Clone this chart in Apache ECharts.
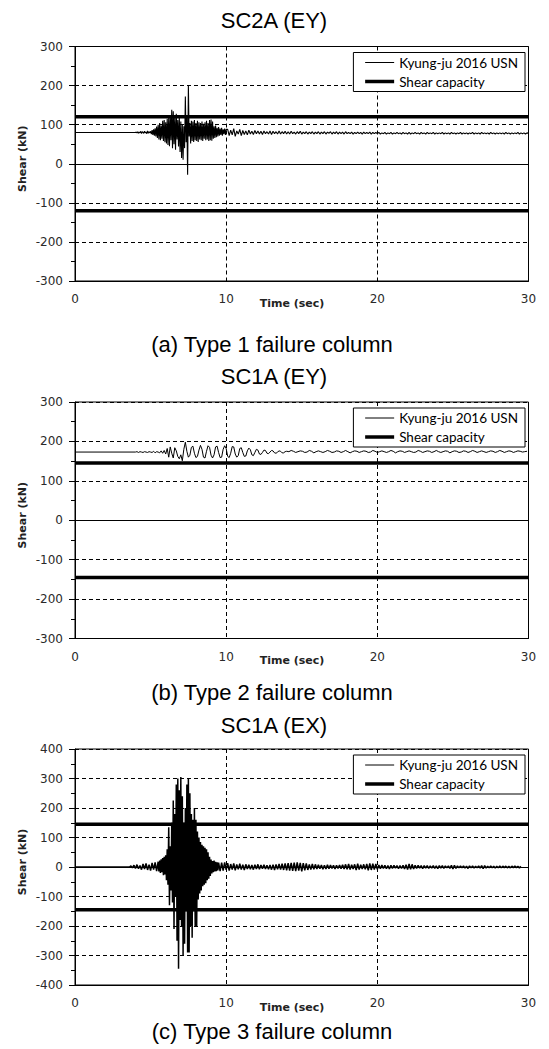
<!DOCTYPE html>
<html>
<head>
<meta charset="utf-8">
<title>Shear time histories</title>
<script src="https://cdn.jsdelivr.net/npm/echarts@6/dist/echarts.min.js"></script>
<style>
html,body{margin:0;padding:0;background:#fff;}
#main{width:549px;height:1049px;}
</style>
</head>
<body>
<div id="main"></div>
<script>
// ---------------- data ----------------
const chartTitles = ['SC2A (EY)', 'SC1A (EY)', 'SC1A (EX)'];
const chartCaptions = ['(a) Type 1 failure column', '(b) Type 2 failure column', '(c) Type 3 failure column'];
const seriesNames = ['Kyung-ju 2016 USN', 'Shear capacity'];
const xTicks = [0, 10, 20, 30];
const yTicksA = [-300, -200, -100, 0, 100, 200, 300];
const yTicksB = [-300, -200, -100, 0, 100, 200, 300];
const yTicksC = [-400, -300, -200, -100, 0, 100, 200, 300, 400];
const capacity = [120, 145, 145];   // +/- shear capacity (kN)
const initial = [80, 173, 0];       // shear before shaking starts (kN)
const quietUntil = [4.0, 4.0, 3.6]; // s

// (a) SC2A EY : 4.00 .. 10.00 s every 0.05 s
const shearA1 = [
  80,81,79,82,78,81,79,83,77,82,80,78,83,79,81,77,84,78,82,79,83,
  76,86,74,88,72,91,70,95,66,100,62,104,60,98,64,110,58,112,55,106,
  52,115,48,118,45,125,60,138,40,134,50,120,36,128,62,112,44,118,30,108,
  15,100,10,96,40,172,55,120,-28,200,70,104,52,110,58,108,56,112,60,104,
  58,110,56,106,62,104,60,108,58,102,64,106,60,110,62,104,58,112,60,113,
  59,108,64,96,66,98,68,92,70,94,72,90,74,92,72,88,76,90,74,88
];
// (a) 10.1 .. 30.0 s every 0.1 s
const shearA2 = [
  88,72,86,74,90,70,84,76,88,72,85,75,84,74,86,76,83,75,85,77,
  84,76,83,75,84,77,82,76,84,75,83,77,82,76,84,76,82,77,83,76,
  82,76,83,77,81,76,82,77,83,76,81,77,82,76,81,77,82,76,81,77,
  82,76,81,77,82,76,81,78,82,76,81,77,82,76,81,77,81,76,82,77,
  80,77,81,76,80,77,81,77,80,76,81,77,80,77,81,76,80,77,80,77,
  80,76,79,77,80,76,79,77,80,76,79,77,80,77,79,76,80,77,79,76,
  80,76,79,77,80,77,79,76,80,77,79,76,80,77,79,77,80,76,79,77,
  79,77,80,76,79,77,79,76,80,77,79,76,79,77,80,76,79,77,79,76,
  79,77,80,76,79,77,79,76,80,77,79,77,79,76,80,77,79,76,79,77,
  79,77,79,76,80,77,79,76,79,77,79,77,80,76,79,77,79,76,79,78
];

// (b) SC1A EY : 4.0 .. 14.0 s every 0.1 s
const shearB1 = [
  173,174,172,174,173,172,174,173,172,174,
  173,172,175,171,174,173,171,176,170,177,
  168,182,160,186,170,158,184,176,162,156,
  166,151,180,198,175,160,165,185,188,170,
  159,162,178,190,180,160,158,175,189,185,
  165,158,166,186,188,172,159,160,180,189,
  182,162,159,170,187,186,168,160,164,182,
  184,172,162,163,176,183,179,166,164,172,
  180,178,168,167,172,178,177,170,169,173,
  177,176,171,170,173,176,175,171,171,174,175
];
// (b) 14.15 .. 29.9 s every 0.15 s
const shearB2 = [
  174,177,175,172,174,176,175,172,173,177,175,171,174,176,174,172,
  174,177,175,172,173,176,175,172,174,177,174,171,174,176,175,172,
  174,176,175,172,173,177,175,172,174,176,174,172,174,177,175,171,
  174,176,175,172,174,176,174,172,173,177,175,172,174,176,175,172,
  174,177,174,172,174,176,175,171,174,176,175,172,173,176,175,172,
  174,177,175,172,174,176,174,172,174,176,175,172,174,177,175,172,
  174,176,175,172,174,176,175,173,174,175
];

// (c) SC1A EX : 3.6 .. 5.4 s every 0.1 s
const shearC1 = [0,4,-3,6,-5,8,-6,5,-9,10,-7,12,-10,8,-12,14,-9,16,-14];
// (c) 5.50 .. 9.50 s every 0.05 s
const shearC2 = [
  18,-15,22,-20,26,-18,30,-28,35,-25,
  40,-45,60,-60,135,-130,70,-80,150,-120,
  225,-210,180,-100,280,-250,300,-345,260,-180,
  305,-200,240,-300,150,-260,200,-150,280,-290,
  300,-290,250,-200,180,-240,160,-150,200,-200,
  160,-200,120,-110,100,-90,85,-80,75,-65,
  70,-60,65,-55,60,-45,50,-40,35,-30,
  25,-22,20,-18,22,-15,18,-14,16,-12,15
];
// (c) 9.6 .. 29.5 s every 0.1 s
const shearC3 = [
  -14,15,-12,16,-10,13,-12,10,-9,12,-11,9,-8,11,-9,8,-10,9,-7,8,
  -8,7,-9,8,-7,9,-8,7,-6,8,-7,6,-8,7,-9,8,-10,9,-8,10,
  -9,11,-10,12,-11,13,-12,14,-13,15,-14,16,-12,14,-15,13,-11,12,-10,9,
  -9,10,-8,9,-7,8,-6,7,-8,6,-7,8,-6,7,-5,6,-7,6,-5,7,
  -6,8,-7,9,-8,10,-9,8,-7,9,-10,11,-9,8,-7,9,-8,10,-11,12,
  -10,11,-9,10,-8,7,-6,7,-5,6,-6,5,-7,6,-5,6,-4,5,-6,5,
  -5,6,-7,8,-9,10,-8,9,-7,6,-5,6,-4,5,-6,5,-4,5,-5,4,
  -4,5,-5,4,-6,5,-4,5,-5,4,-3,4,-5,6,-7,6,-5,4,-3,4,
  -3,4,-4,3,-5,4,-3,4,-4,3,-3,4,-4,5,-6,5,-4,3,-3,4,
  -3,3,-4,3,-3,4,-3,3,-2,3,-3,2,-3,3,-2,3,-2,2,-3,2
];

// record segments: [start time, time step, values]
const recordA = [[4.0, 0.05, shearA1], [10.1, 0.1, shearA2]];
const recordB = [[4.0, 0.1, shearB1], [14.15, 0.15, shearB2]];
const recordC = [[3.6, 0.1, shearC1], [5.5, 0.05, shearC2], [9.6, 0.1, shearC3]];

// ---------------- layout ----------------
const plotLeft = 75, plotWidth = 453.5;
const panels = [
  {top: 46.5, h: 234.5, yTicks: yTicksA, rec: recordA, lw: 1.1, titleY: 20,  capY: 344},
  {top: 402,  h: 236.5, yTicks: yTicksB, rec: recordB, lw: 1,   titleY: 376, capY: 692},
  {top: 749,  h: 236,   yTicks: yTicksC, rec: recordC, lw: 1.5, titleY: 725, capY: 1031}
];
const capWidth = 3.5;

const labelFont = 'DejaVu Sans';
const dashGrid = {color: '#000', width: 1, type: [4, 3]};

function toPoints(i, rec){
    let pts = [[0, initial[i]], [quietUntil[i], initial[i]]];
    rec.forEach(function(s){
        s[2].forEach(function(v, k){
            pts.push([+(s[0] + k * s[1]).toFixed(3), v]);
        });
    });
    return pts;
}

const option = {
    animation: false,
    grid: [], xAxis: [], yAxis: [], series: [], legend: [], graphic: []
};

panels.forEach(function(p, i){
    option.grid.push({
        left: plotLeft, width: plotWidth, top: p.top, height: p.h,
        show: true, borderColor: '#000', borderWidth: 1
    });
    option.xAxis.push({
        type: 'value', gridIndex: i,
        min: xTicks[0], max: xTicks[xTicks.length - 1], interval: xTicks[1] - xTicks[0],
        axisLine: {show: true, onZero: false, lineStyle: {color: '#000'}},
        axisTick: {show: false},
        axisLabel: {margin: 12, color: '#2a2a2a', fontSize: 12, fontFamily: labelFont},
        splitLine: {show: true, lineStyle: dashGrid}
    });
    option.yAxis.push({
        type: 'value', gridIndex: i,
        min: p.yTicks[0], max: p.yTicks[p.yTicks.length - 1], interval: p.yTicks[1] - p.yTicks[0],
        axisLine: {show: true, onZero: false, lineStyle: {color: '#000'}},
        axisTick: {show: true, length: 6, lineStyle: {color: '#000'}},
        minorTick: {show: true, splitNumber: 2, length: 4, lineStyle: {color: '#000'}},
        axisLabel: {margin: 12, color: '#2a2a2a', fontSize: 12, fontFamily: labelFont},
        splitLine: {show: true, lineStyle: dashGrid}
    });

    // measured response
    option.series.push({
        name: seriesNames[0], type: 'line', xAxisIndex: i, yAxisIndex: i,
        data: toPoints(i, p.rec), symbol: 'none', silent: true,
        lineStyle: {color: '#000', width: p.lw}, itemStyle: {color: '#000'},
        markLine: {
            silent: true, symbol: 'none', label: {show: false},
            lineStyle: {color: '#000', width: 1, type: 'solid'},
            data: [{yAxis: 0}]
        }
    });
    // +/- capacity
    [capacity[i], -capacity[i]].forEach(function(c){
        option.series.push({
            name: seriesNames[1], type: 'line', xAxisIndex: i, yAxisIndex: i,
            data: [[xTicks[0], c], [xTicks[xTicks.length - 1], c]],
            symbol: 'none', silent: true,
            lineStyle: {color: '#000', width: capWidth}, itemStyle: {color: '#000'}
        });
    });

    option.legend.push({
        data: [
            {name: seriesNames[0], lineStyle: {width: 1}},
            {name: seriesNames[1], lineStyle: {width: capWidth}}
        ],
        orient: 'vertical', selectedMode: false,
        right: 24, top: p.top + 6,
        itemWidth: 29, itemHeight: 12, itemGap: 5,
        padding: [3, 7, 3, 10],
        borderColor: '#000', borderWidth: 1, borderRadius: 0, backgroundColor: '#fff',
        // hide the marker dot, keep only the line sample
        itemStyle: {color: 'rgba(0,0,0,0)', borderColor: 'rgba(0,0,0,0)', borderWidth: 0},
        textStyle: {fontFamily: 'Lato', fontSize: 13.5, color: '#000'}
    });

    // titles, captions and axis names
    option.graphic.push(
        {type: 'text', x: 274, y: p.titleY, style: {text: chartTitles[i], font: '22px "Liberation Sans"', fill: '#000', textAlign: 'center', textVerticalAlign: 'middle'}},
        {type: 'text', x: 272, y: p.capY, style: {text: chartCaptions[i], font: '22px "Liberation Sans"', fill: '#000', textAlign: 'center', textVerticalAlign: 'middle'}},
        {type: 'text', x: 292, y: p.top + p.h + 22, style: {text: 'Time (sec)', font: 'bold 11px "DejaVu Sans"', fill: '#222', textAlign: 'center', textVerticalAlign: 'middle'}},
        {type: 'text', x: 22, y: p.top + p.h / 2 - 5, rotation: Math.PI / 2, style: {text: 'Shear (kN)', font: 'bold 11px "DejaVu Sans"', fill: '#222', textAlign: 'center', textVerticalAlign: 'middle'}}
    );
});

const chart = echarts.init(document.getElementById('main'), null, {renderer: 'svg'});
chart.setOption(option);
</script>
</body>
</html>
